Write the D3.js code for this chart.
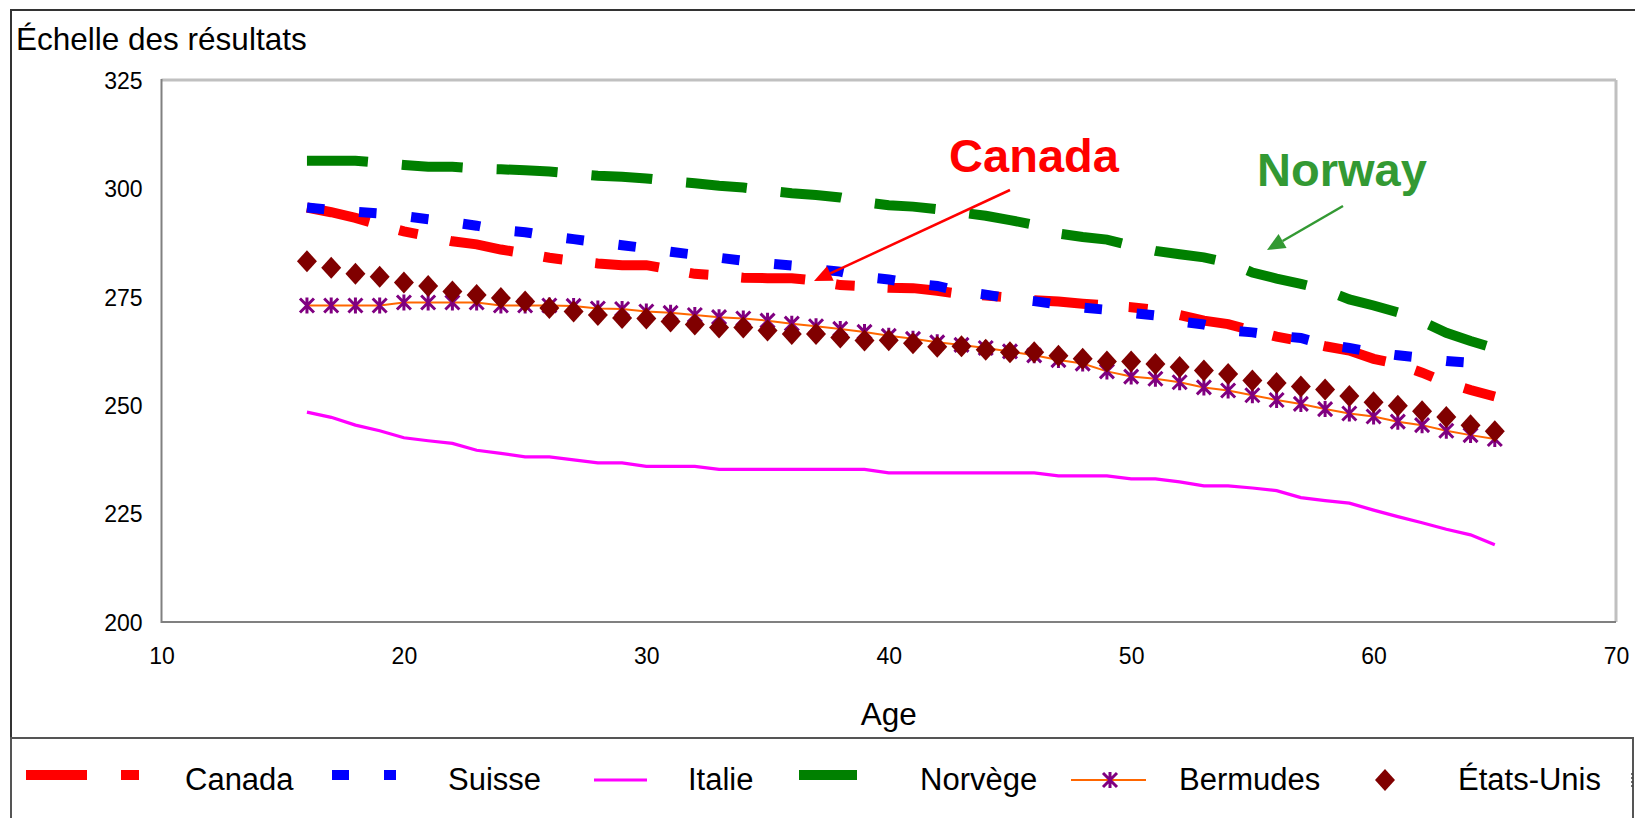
<!DOCTYPE html>
<html>
<head>
<meta charset="utf-8">
<script src="https://cdn.jsdelivr.net/npm/d3@7"></script>
<style>
  html, body { margin: 0; padding: 0; background: #fff; }
  svg { display: block; font-family: "Liberation Sans", Arial, sans-serif; }
</style>
</head>
<body>
<svg id="chart" width="1635" height="818"></svg>
<script>
// ---------- DATA ----------
const ages = [16,17,18,19,20,21,22,23,24,25,26,27,28,29,30,31,32,33,34,35,36,37,38,39,40,
              41,42,43,44,45,46,47,48,49,50,51,52,53,54,55,56,57,58,59,60,61,62,63,64,65];

const canada = [295.6,294.5,293.2,291.6,290.1,289.0,287.8,287.1,285.9,285.0,
                284.0,283.3,282.7,282.3,282.3,281.3,280.3,279.9,279.4,279.3,
                279.3,278.7,277.7,277.4,277.1,277.0,276.4,275.6,275.3,274.8,
                274.2,273.9,273.4,273.0,272.6,272.0,270.8,269.5,268.7,267.2,
                265.8,264.8,263.6,262.6,260.7,259.5,257.5,255.2,253.5,252.0];

const suisse = [295.6,295.0,294.6,294.2,293.6,292.9,292.2,291.4,290.4,289.9,
                289.0,288.3,287.6,286.9,286.2,285.4,284.7,284.0,283.3,282.7,
                282.2,281.4,280.8,279.6,279.0,278.1,277.5,276.2,275.5,274.6,
                274.0,273.2,272.5,272.0,271.3,270.7,269.3,268.6,267.3,266.8,
                266.0,265.5,264.0,263.2,262.2,261.5,260.9,260.2,259.8,259.3];

const italie = [248.4,247.2,245.4,244.1,242.5,241.8,241.2,239.6,238.9,238.1,
                238.1,237.4,236.7,236.7,235.9,235.9,235.9,235.2,235.2,235.2,
                235.2,235.2,235.2,235.2,234.4,234.4,234.4,234.4,234.4,234.4,
                234.4,233.7,233.7,233.7,233.0,233.0,232.3,231.4,231.4,230.9,
                230.3,228.7,228.0,227.4,225.8,224.3,222.9,221.4,220.1,217.8];

const norvege = [306.4,306.4,306.4,305.9,305.4,305.0,305.0,304.6,304.4,304.2,
                 303.9,303.4,302.9,302.7,302.3,301.7,301.2,300.6,300.2,299.5,
                 298.9,298.5,297.9,296.8,296.1,295.8,295.2,294.4,293.7,292.7,
                 291.6,289.6,288.8,288.2,286.8,285.6,284.8,284.1,282.9,280.6,
                 279.2,278.0,276.6,274.4,273.0,271.4,269.3,266.7,264.8,263.1];

const bermudes = [273.0,273.0,273.0,273.0,273.7,273.7,273.7,273.7,273.0,273.0,
                  273.0,272.9,272.3,272.2,271.6,271.3,270.8,270.3,270.0,269.5,
                  268.8,268.2,267.6,266.9,266.0,265.3,264.5,263.9,263.2,262.4,
                  261.5,260.4,259.6,257.8,256.6,256.1,255.3,254.1,253.4,252.3,
                  251.2,250.3,249.1,248.1,247.4,246.2,245.4,244.1,243.1,242.2];

const etatsUnis = [283.2,281.7,280.3,279.6,278.3,277.5,276.2,275.4,274.7,273.9,
                   272.4,271.6,270.8,270.1,270.0,269.3,268.6,267.9,267.9,267.2,
                   266.4,266.4,265.6,264.9,265.0,264.3,263.5,263.6,262.8,262.2,
                   262.2,261.4,260.7,260.1,260.1,259.5,258.8,258.0,257.2,255.7,
                   255.1,254.3,253.6,252.1,250.7,249.9,248.6,247.3,245.4,244.0];

const xTicks = [10,20,30,40,50,60,70];
const yTicks = [200,225,250,275,300,325];
const seriesNames = ["Canada","Suisse","Italie","Norvège","Bermudes","États-Unis"];
const yTitle = "Échelle des résultats";
const xTitle = "Age";
const annotations = ["Canada","Norway"];

// ---------- CHART ----------
const svg = d3.select("#chart");
const font = '"Liberation Sans", Arial, sans-serif';

// outer border
svg.append("rect").attr("x",11).attr("y",10).attr("width",1640).attr("height",900)
   .attr("fill","#fff").attr("stroke","#333").attr("stroke-width",2);

const x = d3.scaleLinear().domain([10,70]).range([161.5,1616]);
const y = d3.scaleLinear().domain([200,325]).range([622,80]);

// plot frame
const [x0,x1] = x.range(), [y0,y1] = y.range();
svg.append("line").attr("x1",x0).attr("x2",x1).attr("y1",y1).attr("y2",y1).attr("stroke","#c0c0c0").attr("stroke-width",3);
svg.append("line").attr("x1",x1).attr("x2",x1).attr("y1",y1).attr("y2",y0).attr("stroke","#c0c0c0").attr("stroke-width",3);
svg.append("line").attr("x1",x0).attr("x2",x0).attr("y1",y1-1).attr("y2",y0+1).attr("stroke","#808080").attr("stroke-width",2);
svg.append("line").attr("x1",x0).attr("x2",x1).attr("y1",y0).attr("y2",y0).attr("stroke","#808080").attr("stroke-width",2);

// axes
const yAxis = svg.append("g").attr("transform",`translate(${x0},0)`)
  .call(d3.axisLeft(y).tickValues(yTicks).tickSize(0).tickPadding(19).tickFormat(d3.format("d")));
yAxis.select(".domain").remove();
yAxis.selectAll("text").attr("font-size",23).attr("font-family",font).attr("fill","#000").attr("dy","0.36em");

const xAxis = svg.append("g").attr("transform",`translate(0,${y0})`)
  .call(d3.axisBottom(x).tickValues(xTicks).tickSize(0).tickFormat(d3.format("d")));
xAxis.select(".domain").remove();
xAxis.selectAll("text").attr("font-size",23).attr("font-family",font).attr("fill","#000")
  .attr("y",34).attr("dy","0.36em");

// titles
svg.append("text").attr("x",16).attr("y",50).attr("font-size",31.5).attr("fill","#000").text(yTitle);
svg.append("text").attr("x",(x0+x1)/2).attr("y",725).attr("text-anchor","middle").attr("font-size",31.5).attr("fill","#000").text(xTitle);

const zip = arr => ages.map((a,i)=>({age:a, v:arr[i]}));
const line = d3.line().x(d=>x(d.age)).y(d=>y(d.v));
const g = svg.append("g");

// Canada
g.append("path").datum(zip(canada)).attr("d",line).attr("fill","none")
  .attr("stroke","#ff0000").attr("stroke-width",10).attr("stroke-dasharray","64,31,19,33");
// Suisse
g.append("path").datum(zip(suisse)).attr("d",line).attr("fill","none")
  .attr("stroke","#0000ff").attr("stroke-width",10).attr("stroke-dasharray","17.5,34.8");
// Italie
g.append("path").datum(zip(italie)).attr("d",line).attr("fill","none")
  .attr("stroke","#ff00ff").attr("stroke-width",3.2);
// Norvège
g.append("path").datum(zip(norvege)).attr("d",line).attr("fill","none")
  .attr("stroke","#008000").attr("stroke-width",10).attr("stroke-dasharray","61,34");
// Bermudes
g.append("path").datum(zip(bermudes)).attr("d",line).attr("fill","none")
  .attr("stroke","#ff6600").attr("stroke-width",2);

function asterisk(sel){
  sel.append("path").attr("d","M0,-8V8M-7,-7L7,7M-7,7L7,-7")
    .attr("stroke","#800080").attr("stroke-width",3).attr("fill","none");
}
g.selectAll(".ast").data(zip(bermudes)).join("g").attr("class","ast")
  .attr("transform",d=>`translate(${x(d.age)},${y(d.v)})`).call(asterisk);

// États-Unis
const diamond = "M0,-11L10,0L0,11L-10,0Z";
g.selectAll(".dia").data(zip(etatsUnis)).join("path").attr("class","dia")
  .attr("d",diamond).attr("transform",d=>`translate(${x(d.age)},${y(d.v)})`)
  .attr("fill","#800000");

// annotations
function arrow(xs,ys,xt,yt,color){
  const ang = Math.atan2(yt-ys, xt-xs), L = 18, W = 8;
  const bx = xt - L*Math.cos(ang), by = yt - L*Math.sin(ang);
  svg.append("line").attr("x1",xs).attr("y1",ys).attr("x2",bx).attr("y2",by)
    .attr("stroke",color).attr("stroke-width",2.5);
  const px = -Math.sin(ang)*W, py = Math.cos(ang)*W;
  svg.append("path").attr("d",`M${xt},${yt}L${bx+px},${by+py}L${bx-px},${by-py}Z`).attr("fill",color);
}
svg.append("text").attr("x",1034).attr("y",172).attr("text-anchor","middle").attr("font-size",47)
  .attr("font-weight","bold").attr("fill","#ff0000").text(annotations[0]);
arrow(1010,190,814,281,"#ff0000");
svg.append("text").attr("x",1342).attr("y",186).attr("text-anchor","middle").attr("font-size",47)
  .attr("font-weight","bold").attr("fill","#339933").text(annotations[1]);
arrow(1343,206,1267,250,"#339933");

// legend
svg.append("rect").attr("x",11).attr("y",738).attr("width",1622).attr("height",120)
  .attr("fill","#fff").attr("stroke","#555").attr("stroke-width",2);
const ly = 775, lt = 790;
const leg = svg.append("g");
leg.append("line").attr("x1",26).attr("x2",139).attr("y1",ly).attr("y2",ly)
  .attr("stroke","#ff0000").attr("stroke-width",10).attr("stroke-dasharray","61,34,18,40");
leg.append("line").attr("x1",332).attr("x2",396).attr("y1",ly).attr("y2",ly)
  .attr("stroke","#0000ff").attr("stroke-width",10).attr("stroke-dasharray","17,35");
leg.append("line").attr("x1",594).attr("x2",647).attr("y1",780).attr("y2",780)
  .attr("stroke","#ff00ff").attr("stroke-width",3);
leg.append("line").attr("x1",799).attr("x2",857).attr("y1",ly).attr("y2",ly)
  .attr("stroke","#008000").attr("stroke-width",10);
leg.append("line").attr("x1",1071).attr("x2",1146).attr("y1",780).attr("y2",780)
  .attr("stroke","#ff6600").attr("stroke-width",2);
leg.append("g").attr("transform","translate(1110,780)").call(asterisk);
leg.append("path").attr("d",diamond).attr("transform","translate(1385,780)").attr("fill","#800000");
leg.append("line").attr("x1",1632).attr("x2",1632).attr("y1",773).attr("y2",789)
  .attr("stroke","#444").attr("stroke-width",1.5).attr("stroke-dasharray","2,2");
const textX = [185,448,688,920,1179,1458];
leg.selectAll(".lt").data(seriesNames).join("text").attr("class","lt")
  .attr("x",(d,i)=>textX[i]).attr("y",lt).attr("font-size",31).attr("fill","#000").text(d=>d);
</script>
</body>
</html>
